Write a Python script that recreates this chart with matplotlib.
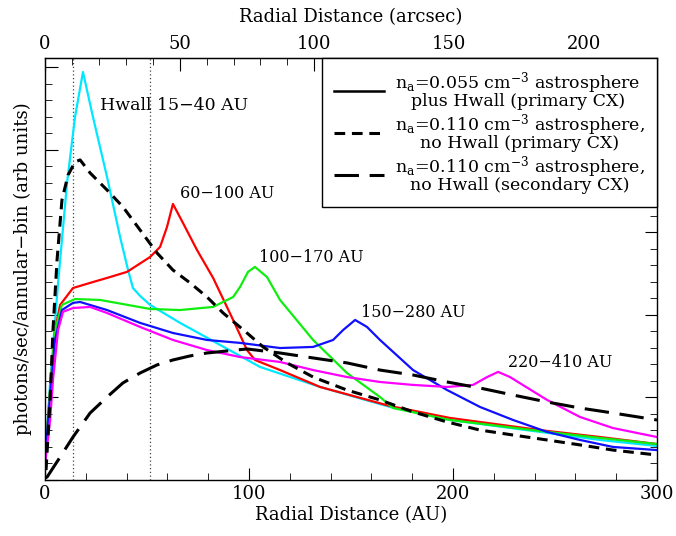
import numpy as np
import matplotlib.pyplot as plt
from matplotlib.ticker import MultipleLocator, FixedLocator
from matplotlib.lines import Line2D

plt.rcParams['font.family'] = ['DejaVu Serif']
plt.rcParams['mathtext.fontset'] = 'dejavuserif'

# radial distance (AU) and intensity (arb units)
cyan_r = [0, 2.5, 6.4, 10.8, 14.7, 18.6, 23.5, 30.4, 36.8, 40.7, 43.1, 46.6, 51.5,
          66.2, 85.8, 105.4, 134.8, 169.1, 198.5, 242.6, 272.1, 300]
cyan_v = [1.09, 5.29, 10.74, 16.19, 19.78, 22.23, 19.78, 16.51, 13.24, 11.44, 10.46,
          10.03, 9.54, 8.56, 7.36, 6.16, 5.07, 3.98, 3.27, 2.62, 2.18, 1.85]

red_r = [0, 2.5, 4.9, 7.4, 13.7, 22.1, 30.4, 40.2, 51.5, 56.4, 59.8, 62.7, 67.6, 74.5,
         82.4, 92.2, 99.0, 102.9, 115.2, 134.8, 169.1, 198.5, 242.6, 272.1, 300]
red_v = [1.09, 4.90, 8.17, 9.54, 10.46, 10.74, 11.01, 11.34, 12.15, 12.70, 13.79, 15.04,
         14.01, 12.53, 11.01, 8.72, 7.08, 6.54, 5.99, 5.07, 4.03, 3.38, 2.72, 2.34, 1.96]

green_r = [0, 2.5, 4.9, 8.3, 14.7, 27.0, 51.5, 66.2, 82.4, 92.2, 95.6, 99.5, 102.9,
           108.8, 115.2, 131.4, 148.0, 164.2, 170.6, 198.5, 242.6, 272.1, 300]
green_v = [1.09, 4.90, 8.17, 9.54, 9.86, 9.81, 9.32, 9.26, 9.43, 9.97, 10.52, 11.34,
           11.61, 11.06, 9.81, 7.63, 5.83, 4.52, 3.92, 3.27, 2.67, 2.29, 1.96]

blue_r = [0, 2.5, 4.9, 8.3, 13.7, 17.2, 30.4, 46.6, 62.7, 79.4, 95.6, 115.2, 131.4,
          141.2, 146.1, 152.0, 157.8, 164.2, 180.4, 197.1, 213.2, 229.4, 246.1, 262.3,
          278.4, 300]
blue_v = [1.09, 4.63, 7.63, 9.26, 9.65, 9.70, 9.26, 8.56, 8.01, 7.63, 7.47, 7.19, 7.25,
          7.63, 8.17, 8.72, 8.34, 7.63, 5.99, 4.90, 3.98, 3.27, 2.62, 2.18, 1.80, 1.63]

mag_r = [0, 2.5, 3.9, 6.4, 8.8, 13.7, 22.1, 30.4, 46.6, 62.7, 79.4, 95.6, 115.2, 131.4,
         148.0, 164.2, 180.4, 197.1, 209.8, 216.7, 222.1, 227.9, 246.1, 262.3, 278.4, 300]
mag_v = [0.82, 3.27, 5.45, 8.17, 9.16, 9.37, 9.43, 9.10, 8.34, 7.63, 7.08, 6.70, 6.43,
         5.99, 5.61, 5.34, 5.18, 5.07, 5.18, 5.61, 5.89, 5.61, 4.36, 3.43, 2.83, 2.34]

# n_a = 0.110, no Hwall, primary CX
prim_r = [0.5, 2.5, 3.9, 5.9, 8.3, 11.3, 14.7, 17.2, 22.1, 30.4, 38.2, 46.6, 54.9, 62.7,
          71.1, 79.4, 87.3, 99.0, 106.9, 118.6, 131.4, 148.0, 164.2, 180.4, 197.1, 213.2,
          229.4, 246.1, 262.3, 278.4, 300]
prim_v = [0.54, 4.36, 8.17, 11.99, 15.26, 16.62, 17.33, 17.44, 16.73, 15.80, 14.88, 13.62,
          12.37, 11.44, 10.74, 9.97, 9.10, 8.01, 7.25, 6.38, 5.61, 4.90, 4.36, 3.71, 3.16,
          2.72, 2.45, 2.18, 1.91, 1.63, 1.36]

# n_a = 0.110, no Hwall, secondary CX
sec_r = [0, 1.0, 7.4, 13.7, 22.1, 30.4, 38.2, 46.6, 54.9, 62.7, 71.1, 79.4, 89.2, 99.0,
         115.2, 131.4, 148.0, 164.2, 180.4, 197.1, 213.2, 229.4, 246.1, 262.3, 278.4, 300]
sec_v = [0.11, 0.16, 1.25, 2.34, 3.65, 4.52, 5.29, 5.83, 6.27, 6.54, 6.76, 6.92, 7.03,
         7.14, 6.92, 6.65, 6.38, 5.99, 5.72, 5.34, 5.01, 4.63, 4.25, 3.92, 3.65, 3.27]

hwall_edges = [13.7, 51.5]
au_per_arcsec = 1.32
arcsec_ticks = [0, 50, 100, 150, 200]

labels = [('Hwall 15\u221240 AU', 27, 20.4),
          ('60\u2212100 AU', 66, 15.6),
          ('100\u2212170 AU', 105, 12.1),
          ('150\u2212280 AU', 155, 9.1),
          ('220\u2212410 AU', 227, 6.4)]

fig = plt.figure(figsize=(6.76, 5.36), dpi=100)
ax = fig.add_axes([0.0666, 0.1045, 0.9054, 0.7875])

for x in hwall_edges:
    ax.axvline(x, color='#444444', ls=(0, (1, 2)), lw=0.9)

ax.plot(cyan_r, cyan_v, color='#00e8ff', lw=1.6)
ax.plot(red_r, red_v, color='#ff0000', lw=1.6)
ax.plot(green_r, green_v, color='#10ee10', lw=1.6)
ax.plot(blue_r, blue_v, color='#1010ff', lw=1.6)
ax.plot(mag_r, mag_v, color='#ff00ff', lw=1.6)
ax.plot(prim_r, prim_v, color='k', lw=2.2, ls=(0, (3.5, 2.2)))
ax.plot(sec_r, sec_v, color='k', lw=2.2, ls=(0, (8, 3.5)))

for i, (txt, x, y) in enumerate(labels):
    ax.text(x, y, txt, fontsize=12.5 if i == 0 else 11.5, va='center', ha='left')

ax.set_xlim(0, 300)
ax.set_ylim(0, 23.0)
ax.xaxis.set_major_locator(MultipleLocator(100))
ax.xaxis.set_minor_locator(MultipleLocator(20))
ax.yaxis.set_major_locator(MultipleLocator(4.5))
ax.yaxis.set_minor_locator(MultipleLocator(0.9))
ax.tick_params(which='both', direction='in', right=True, top=False)
ax.tick_params(which='major', length=9, labelsize=13)
ax.tick_params(which='minor', length=5)
ax.tick_params(axis='y', labelleft=False)
ax.set_xlabel('Radial Distance (AU)', fontsize=13, labelpad=2)
ax.set_ylabel('photons/sec/annular\u2212bin (arb units)', fontsize=13, labelpad=6)

top = ax.secondary_xaxis('top', functions=(lambda r: r / au_per_arcsec,
                                           lambda a: a * au_per_arcsec))
top.xaxis.set_major_locator(FixedLocator(arcsec_ticks))
top.xaxis.set_minor_locator(MultipleLocator(10))
top.tick_params(which='both', direction='in', labelsize=13)
top.tick_params(which='major', length=9)
top.tick_params(which='minor', length=5)
top.set_xlabel('Radial Distance (arcsec)', fontsize=13, labelpad=9)

handles = [Line2D([], [], color='k', lw=1.8),
           Line2D([], [], color='k', lw=2.2, ls=(0, (3.5, 2.2))),
           Line2D([], [], color='k', lw=2.2, ls=(0, (8, 3.5)))]
leg_labels = ['n$_\\mathrm{a}$=0.055 cm$^{-3}$ astrosphere\nplus Hwall (primary CX)',
              'n$_\\mathrm{a}$=0.110 cm$^{-3}$ astrosphere,\nno Hwall (primary CX)',
              'n$_\\mathrm{a}$=0.110 cm$^{-3}$ astrosphere,\nno Hwall (secondary CX)']
leg = ax.legend(handles, leg_labels, loc='upper right', borderaxespad=0, fontsize=12.5,
                fancybox=False, edgecolor='k', framealpha=1, handlelength=2.9,
                labelspacing=0.1, borderpad=0.7, handletextpad=0.6)
leg.get_frame().set_linewidth(1.0)
for t in leg.get_texts():
    t.set_multialignment('center')
    t.set_linespacing(0.8)

for s in ax.spines.values():
    s.set_linewidth(1.0)

fig.savefig('out.png', dpi=100)
